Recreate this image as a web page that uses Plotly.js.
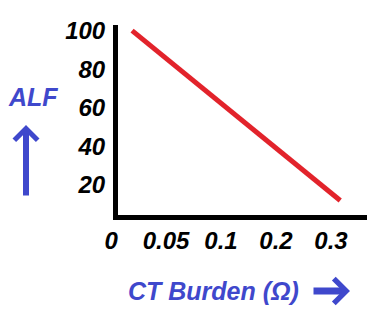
<!DOCTYPE html>
<html>
<head>
<meta charset="utf-8">
<script src="https://cdn.plot.ly/plotly-3.0.1.min.js"></script>
<style>html,body{margin:0;padding:0;background:#fff;}#chart{width:376px;height:313px;}</style>
</head>
<body>
<div id="chart"></div>
<script>
// Tick labels (CT burden in ohms), equally spaced as in the sketch
const burdenTicks = ['0', '0.05', '0.1', '0.2', '0.3'];
const burdenTickPos = [0, 1, 2, 3, 4];
// ALF tick values
const alfTicks = [20, 40, 60, 80, 100];
// Line: ALF falls as CT burden rises (x in tick-position units)
const lineX = [0.255, 4.04];
const lineY = [100, 12];

const W = 376, H = 313;
const M = {l: 118, r: 9, t: 25, b: 98};
const pw = W - M.l - M.r, ph = H - M.t - M.b;
const px = x => (x - M.l) / pw;
const py = y => (H - M.b - y) / ph;

const blue = '#3F48CC';
const FAM = 'Liberation Sans, Arial, sans-serif';
const tickFont = {family: FAM, size: 24, color: '#000', weight: 'bold', style: 'italic'};

const data = [{
  x: lineX, y: lineY, type: 'scatter', mode: 'lines',
  line: {color: '#E2232B', width: 5}, hoverinfo: 'skip', showlegend: false
}];

const layout = {
  width: W, height: H, margin: M,
  paper_bgcolor: '#fff', plot_bgcolor: '#fff',
  showlegend: false,
  xaxis: {
    range: [-0.001, 4.527], tickvals: burdenTickPos, ticktext: burdenTicks,
    showgrid: false, zeroline: false, showline: true, linecolor: '#000', linewidth: 5,
    ticks: '', tickfont: tickFont, ticklabelshift: -7, fixedrange: true
  },
  yaxis: {
    range: [4.5, 102.9], tickvals: alfTicks,
    showgrid: false, zeroline: false, showline: true, linecolor: '#000', linewidth: 5,
    ticks: '', tickfont: tickFont, ticklabelstandoff: 3, fixedrange: true
  },
  annotations: [
    {text: 'ALF', xref: 'paper', yref: 'paper', x: px(33), y: py(97), showarrow: false,
     xanchor: 'center', yanchor: 'middle',
     font: {family: FAM, size: 25, color: blue, weight: 'bold', style: 'italic'}},
    {text: 'CT Burden (Ω)', xref: 'paper', yref: 'paper', x: px(213), y: py(291), showarrow: false,
     xanchor: 'center', yanchor: 'middle',
     font: {family: FAM, size: 25, color: blue, weight: 'bold', style: 'italic'}},
    {text: '', xref: 'paper', yref: 'paper', x: px(26), y: py(125), showarrow: true,
     ax: 0, ay: 72, arrowcolor: blue, arrowwidth: 6, arrowhead: 4, arrowsize: 0.75, standoff: 0},
    {text: '', xref: 'paper', yref: 'paper', x: px(350), y: py(291), showarrow: true,
     ax: -38, ay: 0, arrowcolor: blue, arrowwidth: 7, arrowhead: 4, arrowsize: 0.68, standoff: 0}
  ]
};

Plotly.newPlot('chart', data, layout, {staticPlot: true, displayModeBar: false});
</script>
</body>
</html>
